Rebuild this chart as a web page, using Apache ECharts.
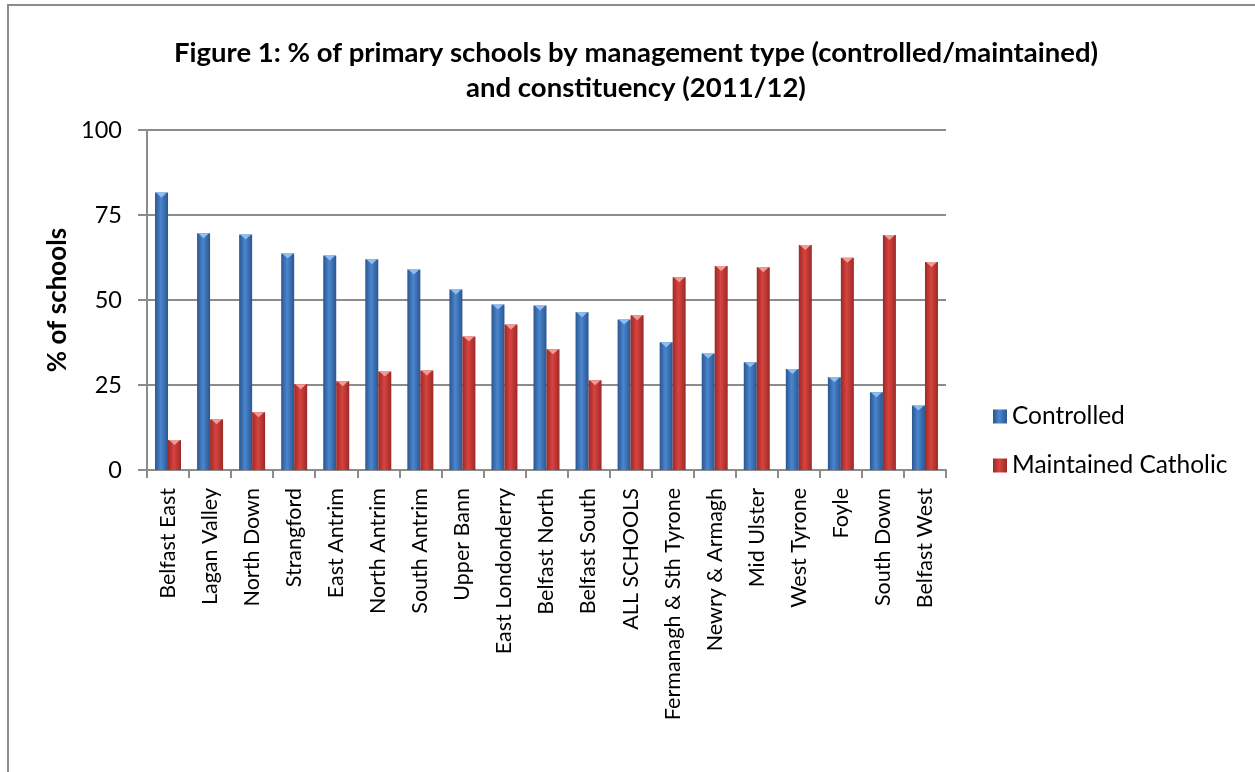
<!DOCTYPE html>
<html>
<head>
<meta charset="utf-8">
<script src="https://cdn.jsdelivr.net/npm/echarts@6/dist/echarts.min.js"></script>
<style>
  html, body { margin: 0; padding: 0; background: #fff; }
  #chart { width: 1255px; height: 772px; }
</style>
</head>
<body>
<div id="chart"></div>
<script>
const categories = [
  'Belfast East', 'Lagan Valley', 'North Down', 'Strangford', 'East Antrim',
  'North Antrim', 'South Antrim', 'Upper Bann', 'East Londonderry', 'Belfast North',
  'Belfast South', 'ALL SCHOOLS', 'Fermanagh & Sth Tyrone', 'Newry & Armagh',
  'Mid Ulster', 'West Tyrone', 'Foyle', 'South Down', 'Belfast West'
]
const controlled = [81.6, 69.6, 69.3, 63.7, 63.1, 62.0, 59.0, 53.1, 48.7, 48.4, 46.4, 44.3, 37.6, 34.3, 31.7, 29.7, 27.3, 22.9, 19.0]
const maintainedCatholic = [8.8, 14.9, 17.0, 25.2, 26.1, 29.0, 29.3, 39.3, 42.8, 35.5, 26.4, 45.5, 56.7, 60.0, 59.6, 66.2, 62.4, 69.1, 61.2]
const yTicks = [0, 25, 50, 75, 100]

const FONT = 'Lato, "Open Sans", sans-serif'

const barGradient = (edge, mid) => new echarts.graphic.LinearGradient(0, 0, 1, 0, [
  { offset: 0, color: edge },
  { offset: 0.45, color: mid },
  { offset: 1, color: edge }
])

// light bevel triangle at the top of each bar
const bevel = (name, data, color) => ({
  name: name + ' bevel',
  type: 'pictorialBar',
  data,
  barWidth: 13,
  barGap: '0%',
  symbol: 'triangle',
  symbolRotate: 180,
  symbolSize: [11, 5],
  symbolPosition: 'end',
  symbolOffset: [0, 0],
  itemStyle: { color },
  z: 3,
  silent: true
})

const chart = echarts.init(document.getElementById('chart'))

chart.setOption({
  animation: false,
  textStyle: { fontFamily: FONT },
  title: {
    text: 'Figure 1: % of primary schools by management type (controlled/maintained)\nand constituency (2011/12)',
    left: 631,
    textAlign: 'center',
    top: 31,
    textStyle: {
      fontSize: 27.5,
      fontWeight: 'bold',
      color: '#000',
      lineHeight: 35,
      fontFamily: FONT
    }
  },
  graphic: [{
    type: 'polyline',
    shape: { points: [[8, 772], [8, 5], [1255, 5]] },
    style: { stroke: '#8c8c8c', lineWidth: 2, fill: null }
  }],
  legend: {
    orient: 'vertical',
    left: 988,
    top: 399,
    itemWidth: 14,
    itemHeight: 14,
    itemGap: 24,
    icon: 'rect',
    textStyle: { fontSize: 24.5, color: '#000', fontFamily: FONT },
    data: ['Controlled', 'Maintained Catholic']
  },
  grid: {
    left: 147,
    right: 309,
    top: 130,
    bottom: 302,
    containLabel: false
  },
  xAxis: {
    type: 'category',
    data: categories,
    boundaryGap: true,
    axisLine: { lineStyle: { color: '#8c8c8c', width: 2 } },
    axisTick: { show: true, length: 8, lineStyle: { color: '#8c8c8c', width: 2 } },
    axisLabel: {
      interval: 0,
      rotate: 90,
      margin: 18,
      fontSize: 21.5,
      color: '#000',
      fontFamily: FONT
    }
  },
  yAxis: {
    type: 'value',
    min: yTicks[0],
    max: yTicks[yTicks.length - 1],
    interval: 25,
    name: '% of schools',
    nameLocation: 'middle',
    nameGap: 74,
    nameTextStyle: { fontSize: 26, fontWeight: 'bold', color: '#000', fontFamily: FONT },
    axisLine: { show: true, lineStyle: { color: '#8c8c8c', width: 2 } },
    axisTick: { show: true, length: 9, lineStyle: { color: '#8c8c8c', width: 2 } },
    axisLabel: { fontSize: 23.5, color: '#000', margin: 25, fontFamily: FONT },
    splitLine: { lineStyle: { color: '#8c8c8c', width: 2 } }
  },
  series: [
    {
      name: 'Controlled',
      type: 'bar',
      data: controlled,
      barWidth: 13,
      barGap: '0%',
      itemStyle: { color: barGradient('#2a5690', '#4a86cf') }
    },
    {
      name: 'Maintained Catholic',
      type: 'bar',
      data: maintainedCatholic,
      barWidth: 13,
      itemStyle: { color: barGradient('#9a2a27', '#d8433f') }
    },
    bevel('Controlled', controlled, '#8fbdf0'),
    bevel('Maintained Catholic', maintainedCatholic, '#f49a94')
  ]
})
</script>
</body>
</html>
